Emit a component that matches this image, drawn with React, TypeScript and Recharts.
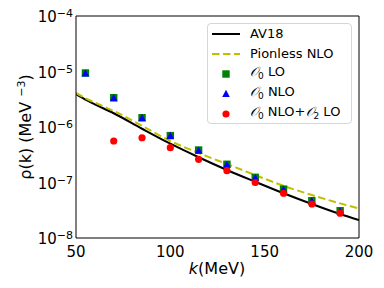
import {
  ComposedChart,
  Line,
  Scatter,
  XAxis,
  YAxis,
} from "recharts";

const FONT = "'DejaVu Sans', sans-serif";

// momentum grid of the curves (MeV)
const curveK = [50, 55, 60, 70, 85, 100, 115, 130, 145, 160, 175, 190, 200];
const av18 = [
  3.9e-6, 3.1e-6, 2.55e-6, 1.77e-6, 9.3e-7, 5.0e-7, 2.85e-7, 1.68e-7, 1.03e-7,
  6.4e-8, 4.1e-8, 2.7e-8, 2.1e-8,
];
const pionlessNlo = [
  4.1e-6, 3.3e-6, 2.75e-6, 1.95e-6, 1.05e-6, 5.6e-7, 3.4e-7, 2.15e-7, 1.36e-7,
  8.7e-8, 5.95e-8, 4.2e-8, 3.4e-8,
];

// momenta of the markers (MeV)
const pointK = [55, 70, 85, 100, 115, 130, 145, 160, 175, 190];
const o0Lo = [
  9.4e-6, 3.37e-6, 1.47e-6, 7.0e-7, 3.85e-7, 2.13e-7, 1.24e-7, 7.6e-8, 4.7e-8,
  3.1e-8,
];
const o0Nlo = [
  9.2e-6, 3.3e-6, 1.44e-6, 6.9e-7, 3.75e-7, 2.08e-7, 1.2e-7, 7.4e-8, 4.6e-8,
  3.0e-8,
];
const o0NloO2Lo = [
  null, 5.6e-7, 6.4e-7, 4.24e-7, 2.62e-7, 1.63e-7, 1.0e-7, 6.4e-8, 4.1e-8,
  2.8e-8,
];

const xTicks = [50, 100, 150, 200];
const xMinorTicks = [60, 70, 80, 90, 110, 120, 130, 140, 160, 170, 180, 190];
const yTicks = [1e-8, 1e-7, 1e-6, 1e-5, 1e-4];
const yMinorTicks: number[] = [];
for (let e = -8; e < -4; e++) {
  for (let m = 2; m <= 9; m++) yMinorTicks.push(m * Math.pow(10, e));
}

const toRows = (ks: number[], vs: (number | null)[]) =>
  ks
    .map((k, i) => ({ k, v: vs[i] }))
    .filter((d) => d.v != null);

const av18Data = toRows(curveK, av18);
const pionlessData = toRows(curveK, pionlessNlo);
const loData = toRows(pointK, o0Lo);
const nloData = toRows(pointK, o0Nlo);
const nloO2Data = toRows(pointK, o0NloO2Lo);

const GREEN = "#008000";
const BLUE = "#0000ff";
const RED = "#ff0000";
const OLIVE = "#bfbf00";

const Square = (p: any) =>
  p.cx == null ? null : (
    <rect x={p.cx - 3.7} y={p.cy - 3.7} width={7.4} height={7.4} fill={GREEN} />
  );
const Triangle = (p: any) =>
  p.cx == null ? null : (
    <polygon
      points={`${p.cx},${p.cy - 4.2} ${p.cx - 3.8},${p.cy + 3} ${p.cx + 3.8},${p.cy + 3}`}
      fill={BLUE}
    />
  );
const Dot = (p: any) =>
  p.cx == null ? null : <circle cx={p.cx} cy={p.cy} r={3.6} fill={RED} />;

const XTick = ({ x, y, payload }: any) => (
  <text x={x} y={y + 18.5} textAnchor="middle" fontFamily={FONT} fontSize={15} fill="#000">
    {payload.value}
  </text>
);

const YTick = ({ x, y, payload }: any) => {
  const e = Math.round(Math.log10(payload.value));
  return (
    <text x={x} y={y + 6} textAnchor="end" fontFamily={FONT} fill="#000">
      <tspan fontSize={15}>10</tspan>
      <tspan fontSize={11} dy={-5}>{`\u2212${-e}`}</tspan>
    </text>
  );
};

const Calo = () => (
  <span>
    <span style={{ fontStyle: "italic", fontFamily: "'DejaVu Serif', serif" }}>𝒪</span>
    <sub style={{ fontSize: 9, verticalAlign: "-3px" }}>0</sub>
  </span>
);

const legendItems = [
  { key: "av18", label: "AV18" },
  { key: "pionless", label: "Pionless NLO" },
  { key: "lo", label: "LO" },
  { key: "nlo", label: "NLO" },
  { key: "nloO2", label: "NLO+" },
];

const LegendHandle = ({ kind }: { kind: string }) => (
  <svg width={30} height={12} style={{ display: "block" }}>
    {kind === "av18" && <line x1={1} y1={6} x2={29} y2={6} stroke="#000" strokeWidth={2} />}
    {kind === "pionless" && (
      <line x1={1} y1={6} x2={29} y2={6} stroke={OLIVE} strokeWidth={2} strokeDasharray="7.5 3.5" />
    )}
    {kind === "lo" && <rect x={11.3} y={2.3} width={7.4} height={7.4} fill={GREEN} />}
    {kind === "nlo" && <polygon points="15,1.8 11.2,9 18.8,9" fill={BLUE} />}
    {kind === "nloO2" && <circle cx={15} cy={6} r={3.6} fill={RED} />}
  </svg>
);

// thin mirrored axes used only to draw the inward ticks and the top/right frame
const THIN = 0.01;

export default function App() {
  return (
    <div
      style={{
        position: "absolute",
        left: 0,
        top: 0,
        width: 384,
        height: 288,
        background: "#fff",
        fontFamily: FONT,
      }}
    >
      <ComposedChart
        width={384}
        height={288}
        margin={{ top: 16, right: 25, left: 0, bottom: 0 }}
      >
        {/* main axes with labels */}
        <XAxis
          xAxisId="x"
          dataKey="k"
          type="number"
          domain={[50, 200]}
          ticks={xTicks}
          allowDataOverflow
          height={50}
          tickSize={0}
          tickMargin={0}
          tickLine={false}
          axisLine={{ stroke: "#000", strokeWidth: 1 }}
          tick={<XTick />}
        />
        <YAxis
          yAxisId="y"
          type="number"
          scale="log"
          domain={[1e-8, 1e-4]}
          ticks={yTicks}
          allowDataOverflow
          width={76}
          tickSize={0}
          tickMargin={3}
          tickLine={false}
          axisLine={{ stroke: "#000", strokeWidth: 1 }}
          tick={<YTick />}
        />

        {/* inward ticks on all four sides */}
        <XAxis xAxisId="xb1" type="number" domain={[50, 200]} ticks={xTicks} mirror height={THIN}
          tickSize={4.5} tick={false} axisLine={false} tickLine={{ stroke: "#000" }} />
        <XAxis xAxisId="xb2" type="number" domain={[50, 200]} ticks={xMinorTicks} mirror height={THIN}
          tickSize={2.5} tick={false} axisLine={false} tickLine={{ stroke: "#000" }} />
        <XAxis xAxisId="xt1" orientation="top" type="number" domain={[50, 200]} ticks={xTicks} mirror height={THIN}
          tickSize={4.5} tick={false} axisLine={{ stroke: "#000" }} tickLine={{ stroke: "#000" }} />
        <XAxis xAxisId="xt2" orientation="top" type="number" domain={[50, 200]} ticks={xMinorTicks} mirror height={THIN}
          tickSize={2.5} tick={false} axisLine={false} tickLine={{ stroke: "#000" }} />
        <YAxis yAxisId="yl1" type="number" scale="log" domain={[1e-8, 1e-4]} ticks={yTicks} mirror width={THIN}
          tickSize={4.5} tick={false} axisLine={false} tickLine={{ stroke: "#000" }} />
        <YAxis yAxisId="yl2" type="number" scale="log" domain={[1e-8, 1e-4]} ticks={yMinorTicks} mirror width={THIN}
          tickSize={2.5} tick={false} axisLine={false} tickLine={{ stroke: "#000" }} />
        <YAxis yAxisId="yr1" orientation="right" type="number" scale="log" domain={[1e-8, 1e-4]} ticks={yTicks}
          mirror width={THIN} tickSize={4.5} tick={false} axisLine={{ stroke: "#000" }} tickLine={{ stroke: "#000" }} />
        <YAxis yAxisId="yr2" orientation="right" type="number" scale="log" domain={[1e-8, 1e-4]} ticks={yMinorTicks}
          mirror width={THIN} tickSize={2.5} tick={false} axisLine={false} tickLine={{ stroke: "#000" }} />

        <Line
          xAxisId="x"
          yAxisId="y"
          data={av18Data}
          dataKey="v"
          type="monotone"
          stroke="#000"
          strokeWidth={2}
          dot={false}
          isAnimationActive={false}
        />
        <Line
          xAxisId="x"
          yAxisId="y"
          data={pionlessData}
          dataKey="v"
          type="monotone"
          stroke={OLIVE}
          strokeWidth={2}
          strokeDasharray="7.5 3.5"
          dot={false}
          isAnimationActive={false}
        />
        <Scatter xAxisId="x" yAxisId="y" data={loData} dataKey="v" shape={Square} isAnimationActive={false} />
        <Scatter xAxisId="x" yAxisId="y" data={nloData} dataKey="v" shape={Triangle} isAnimationActive={false} />
        <Scatter xAxisId="x" yAxisId="y" data={nloO2Data} dataKey="v" shape={Dot} isAnimationActive={false} />
      </ComposedChart>

      {/* axis titles */}
      <div
        style={{
          position: "absolute",
          left: 217,
          top: 268,
          transform: "translate(-50%, -50%)",
          fontSize: 16,
          whiteSpace: "nowrap",
        }}
      >
        <span style={{ fontStyle: "italic" }}>k</span>(MeV)
      </div>
      <div
        style={{
          position: "absolute",
          left: 25,
          top: 127,
          transform: "translate(-50%, -50%) rotate(-90deg)",
          fontSize: 16,
          whiteSpace: "nowrap",
        }}
      >
        ρ(k) (MeV <sup style={{ fontSize: 11 }}>−3</sup>)
      </div>

      {/* legend */}
      <div
        style={{
          position: "absolute",
          left: 207,
          top: 23,
          width: 143,
          height: 99,
          border: "1px solid #d6d6d6",
          borderRadius: 4,
          background: "rgba(255,255,255,0.8)",
          fontSize: 13,
        }}
      >
        {legendItems.map((it, i) => (
          <div
            key={it.key}
            style={{
              position: "absolute",
              left: 3,
              top: 4 + i * 20,
              height: 12,
              display: "flex",
              alignItems: "center",
              whiteSpace: "nowrap",
            }}
          >
            <LegendHandle kind={it.key} />
            <span style={{ marginLeft: 9, lineHeight: "12px" }}>
              {it.key === "lo" || it.key === "nlo" ? (
                <>
                  <Calo /> {it.label}
                </>
              ) : it.key === "nloO2" ? (
                <>
                  <Calo /> NLO+
                  <span style={{ fontStyle: "italic", fontFamily: "'DejaVu Serif', serif" }}>𝒪</span>
                  <sub style={{ fontSize: 9, verticalAlign: "-3px" }}>2</sub> LO
                </>
              ) : (
                it.label
              )}
            </span>
          </div>
        ))}
      </div>
    </div>
  );
}
